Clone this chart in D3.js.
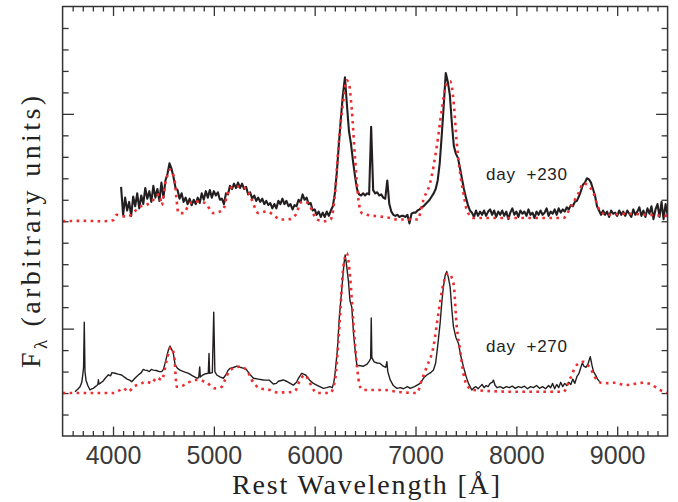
<!DOCTYPE html>
<html>
<head>
<meta charset="utf-8">
<script src="https://cdn.jsdelivr.net/npm/d3@7/dist/d3.min.js"></script>
<style>
  body { margin: 0; background: #fff; }
  text { font-family: 'Liberation Sans', Arial, sans-serif; }
  .title { font-family: 'Liberation Serif', 'DejaVu Serif', serif; }
</style>
</head>
<body>
<svg id="chart" width="678" height="502"></svg>
<script>
// wavelength ticks (Angstrom)
let xMajor = [4000, 5000, 6000, 7000, 8000, 9000];
// flux axis is in arbitrary units, ticks every 1, long ticks at 0 and 10
let yMajor = [0, 10];

// day +230 observed spectrum, sampled every 20 A from 4080 A
let upperStart = 4080;
let upperStep = 20;
let upperObs = [
  1.6, 0.3, 1.1, 0.5, 0.9, 0.25, 1.15, 0.7, 1.3, 0.6,
  1.2, 0.8, 1.55, 1.05, 1.4, 0.9, 1.65, 1.1, 1.5, 0.95,
  1.8, 1.1, 1.9, 2.2, 2.7, 2.45, 2.05, 1.55, 1.45, 1.05,
  1.3, 0.9, 1.1, 0.8, 1.05, 0.75, 1.0, 0.8, 1.1, 0.85,
  1.3, 1.0, 1.4, 1.1, 1.45, 1.1, 1.4, 1.2, 1.35, 1.0,
  1.05, 0.8, 1.3, 1.25, 1.65, 1.5, 1.75, 1.55, 1.8, 1.55,
  1.75, 1.5, 1.6, 1.25, 1.35, 1.05, 1.2, 0.95, 1.1, 0.9,
  1.05, 0.8, 0.95, 0.75, 0.85, 0.6, 0.8, 0.6, 0.95, 0.8,
  1.05, 0.8, 0.95, 0.7, 0.8, 0.55, 0.75, 0.7, 1.0, 0.9,
  1.25, 1.0, 1.1, 0.8, 0.85, 0.5, 0.55, 0.3, 0.45, 0.2,
  0.4, 0.2, 0.45, 0.25, 0.5, 0.7, 1.3, 2.3, 3.6, 4.8,
  5.9, 6.7, 5.4, 4.2, 3.6, 2.8, 2.1, 1.5, 1.25, 1.2,
  1.3, 1.2, 1.3, 1.25, 4.4, 1.45, 1.3, 1.35, 1.2, 1.25,
  1.1, 1.05, 1.9, 0.8, 0.45, 0.3, 0.25, 0.3, 0.2, 0.25,
  0.25, 0.2, 0.3, -0.1, 0.35, 0.4, 0.4, 0.5, 0.55, 0.65,
  0.7, 0.8, 0.9, 1.0, 1.15, 1.3, 1.5, 1.9, 2.7, 4.0,
  5.4, 6.9, 6.5, 5.9, 4.6, 3.5, 3.15, 2.95, 2.5, 2.0,
  1.5, 1.1, 0.75, 0.5, 0.4, 0.2, 0.5, 0.25, 0.45, 0.3,
  0.5, 0.25, 0.45, 0.55, 0.3, 0.5, 0.2, 0.45, 0.3, 0.5,
  0.25, 0.45, 0.1, 0.4, 0.6, 0.3, 0.45, 0.2, 0.5, 0.35,
  0.45, 0.25, 0.55, 0.3, 0.4, 0.15, 0.45, 0.3, 0.5, 0.3,
  0.4, 0.6, 0.25, 0.45, 0.35, 0.55, 0.3, 0.6, 0.4, 0.55,
  0.45, 0.65, 0.55, 0.75, 0.7, 0.9, 0.95, 1.15, 1.4, 1.7,
  1.8, 2.0, 1.95, 1.8, 1.5, 1.2, 0.7, 0.5, 0.3, 0.5,
  0.3, 0.45, 0.2, 0.5, 0.35, 0.4, 0.25, 0.5, 0.3, 0.45,
  0.25, 0.5, 0.35, 0.2, 0.55, 0.3, 0.45, 0.65, 0.25, 0.5,
  0.2, 0.6, 0.35, 0.7, 0.1, 0.55, 0.8, 0.2, 0.9, 0.1,
  0.8, 0.3
];

// day +270 observed spectrum [wavelength, flux]
let lowerObs = [
  [3623, 0.06], [3650, 0.18], [3673, 0.29], [3690, 0.5], [3700, 0.85], [3708, 1.2],
  [3715, 3.3], [3722, 1.0], [3732, 0.6], [3750, 0.35], [3772, 0.14], [3790, 0.2],
  [3805, 0.22], [3825, 0.3], [3840, 0.35], [3850, 0.4], [3855, 0.62], [3860, 0.42],
  [3871, 0.45], [3900, 0.55], [3925, 0.7], [3954, 0.85], [3975, 0.8], [3990, 0.95],
  [4020, 0.92], [4050, 0.88], [4086, 0.84], [4110, 0.75], [4140, 0.65], [4165, 0.6],
  [4186, 0.53], [4210, 0.65], [4230, 0.75], [4251, 0.84], [4280, 0.95], [4300, 1.1],
  [4317, 1.07], [4340, 1.05], [4360, 1.0], [4380, 1.1], [4400, 1.07], [4430, 1.05],
  [4460, 1.0], [4483, 1.0], [4500, 1.1], [4516, 1.38], [4535, 1.75], [4549, 2.0],
  [4565, 2.19], [4580, 2.05], [4598, 1.85], [4616, 1.31], [4640, 1.15], [4665, 1.07],
  [4700, 1.0], [4749, 0.92], [4790, 0.8], [4831, 0.69], [4850, 0.72], [4860, 1.22],
  [4866, 0.75], [4890, 0.84], [4920, 0.9], [4945, 0.92], [4952, 1.84], [4958, 0.92],
  [4985, 0.95], [4999, 3.76], [5010, 1.0], [5029, 0.84], [5060, 0.75], [5094, 0.69],
  [5120, 0.85], [5140, 1.05], [5161, 1.15], [5200, 1.2], [5230, 1.25], [5260, 1.2],
  [5300, 1.15], [5327, 1.07], [5360, 0.85], [5393, 0.69], [5440, 0.65], [5492, 0.61],
  [5550, 0.6], [5590, 0.42], [5620, 0.45], [5640, 0.55], [5689, 0.61], [5720, 0.55],
  [5740, 0.5], [5788, 0.37], [5820, 0.5], [5840, 0.7], [5871, 0.92], [5890, 0.88],
  [5910, 0.84], [5950, 0.6], [5987, 0.45], [6030, 0.35], [6087, 0.22], [6120, 0.25],
  [6150, 0.3], [6175, 0.25], [6190, 0.5], [6202, 0.92], [6225, 2.0], [6245, 3.56],
  [6270, 4.9], [6290, 6.0], [6302, 6.43], [6315, 6.0], [6335, 5.2], [6350, 4.3],
  [6368, 4.0], [6385, 2.8], [6401, 2.0], [6418, 1.31], [6434, 1.28], [6484, 1.25],
  [6520, 1.35], [6543, 1.5], [6555, 1.6], [6561, 3.5], [6567, 1.65], [6590, 1.45],
  [6620, 1.4], [6649, 1.38], [6680, 1.25], [6705, 1.2], [6716, 1.46], [6725, 1.0],
  [6749, 0.61], [6780, 0.35], [6815, 0.22], [6850, 0.25], [6880, 0.2], [6920, 0.3],
  [6947, 0.22], [6990, 0.3], [7046, 0.45], [7080, 0.7], [7112, 0.84], [7150, 0.95],
  [7178, 1.07], [7200, 1.4], [7220, 2.2], [7244, 3.25], [7262, 4.3], [7277, 4.96],
  [7295, 5.5], [7310, 5.66], [7325, 5.4], [7343, 4.96], [7360, 3.9], [7376, 3.09],
  [7400, 2.6], [7426, 2.31], [7450, 1.7], [7475, 1.23], [7500, 0.8], [7525, 0.45],
  [7558, 0.14], [7580, 0.25], [7600, 0.3], [7620, 0.2], [7640, 0.3], [7660, 0.4],
  [7680, 0.25], [7700, 0.35], [7720, 0.3], [7740, 0.45], [7760, 0.5], [7773, 0.6],
  [7790, 0.35], [7810, 0.25], [7840, 0.3], [7870, 0.22], [7900, 0.3], [7930, 0.25],
  [7960, 0.32], [7990, 0.22], [8020, 0.3], [8050, 0.25], [8080, 0.32], [8110, 0.2],
  [8140, 0.3], [8170, 0.25], [8200, 0.35], [8230, 0.22], [8260, 0.3], [8290, 0.2],
  [8320, 0.35], [8340, 0.25], [8360, 0.45], [8380, 0.2], [8400, 0.4], [8420, 0.25],
  [8440, 0.5], [8460, 0.3], [8480, 0.45], [8500, 0.35], [8520, 0.5], [8540, 0.4],
  [8560, 0.65], [8580, 0.45], [8600, 0.76], [8620, 0.9], [8640, 1.2], [8655, 1.4],
  [8670, 1.25], [8690, 1.2], [8710, 1.35], [8733, 1.69], [8750, 1.3], [8765, 1.0],
  [8790, 0.8], [8805, 0.65], [8826, 0.53]
];

// model spectra [wavelength, flux]
let upperModel = [
  [3500, 0], [3700, 0.02], [3900, 0], [4000, 0.05], [4036, 0.3], [4080, 0.25],
  [4152, 0.22], [4200, 0.4], [4235, 0.54], [4280, 0.7], [4334, 0.77], [4400, 1.0],
  [4434, 1.2], [4460, 1.25], [4483, 0.75], [4515, 1.7], [4545, 2.2], [4565, 2.4],
  [4598, 2.17], [4615, 1.78], [4632, 0.92], [4648, 0.38], [4700, 0.38], [4764, 0.85],
  [4846, 0.92], [4913, 0.85], [4995, 0.38], [5094, 0.54], [5128, 1.16], [5161, 1.55],
  [5260, 1.62], [5327, 1.47], [5376, 1.0], [5441, 0.38], [5524, 0.46], [5590, 0.3],
  [5657, 0.08], [5755, 0.1], [5822, 0.38], [5855, 0.85], [5905, 0.92], [5954, 0.69],
  [6021, 0.08], [6100, 0], [6160, 0.1], [6202, 1.31], [6236, 3.49], [6285, 5.66],
  [6318, 6.56], [6340, 6.4], [6368, 5.2], [6401, 2.87], [6434, 1.0], [6467, 0.38],
  [6517, 0.3], [6649, 0.22], [6750, 0.15], [6815, 0.08], [6950, 0.08], [7029, 0.08],
  [7046, 0.38], [7079, 1.0], [7145, 1.78], [7211, 3.49], [7261, 5.2], [7310, 6.44],
  [7343, 6.52], [7376, 5.66], [7409, 3.65], [7442, 2.25], [7475, 1.31], [7508, 0.54],
  [7574, 0.15], [8000, 0.15], [8467, 0.15], [8534, 0.62], [8616, 1.31], [8666, 1.78],
  [8700, 1.7], [8765, 1.31], [8814, 0.62], [8897, 0.3], [9100, 0.35], [9300, 0.3],
  [9500, 0.25]
];
let lowerModel = [
  [3500, 0], [4000, 0], [4069, 0.14], [4102, 0.23], [4152, 0.06], [4202, 0.29],
  [4268, 0.42], [4334, 0.53], [4384, 0.45], [4434, 0.73], [4483, 0.61], [4533, 1.54],
  [4573, 2.13], [4606, 1.77], [4632, 0.29], [4670, 0.3], [4731, 0.45], [4814, 0.61],
  [4913, 0.53], [5012, 0.22], [5078, 0.29], [5111, 0.61], [5161, 1.07], [5260, 1.23],
  [5327, 1.07], [5376, 0.61], [5458, 0.22], [5557, 0.14], [5623, 0.03], [5722, 0.03],
  [5805, 0.1], [5855, 0.61], [5905, 0.84], [5954, 0.45], [6021, 0], [6153, 0],
  [6202, 0.61], [6236, 2.47], [6285, 5.89], [6318, 6.51], [6351, 5.42], [6384, 3.25],
  [6418, 1.3], [6451, 0.29], [6484, 0.14], [6700, 0.14], [6815, 0.06], [7013, 0],
  [7062, 0.61], [7112, 1.23], [7178, 2.16], [7227, 3.72], [7277, 5.11], [7327, 5.58],
  [7376, 5.11], [7409, 3.09], [7442, 2.0], [7475, 0.92], [7508, 0.37], [7574, 0.14],
  [8000, 0.06], [8467, 0.06], [8534, 0.68], [8600, 1.31], [8666, 1.46], [8733, 1.15],
  [8798, 0.61], [8864, 0.45], [8979, 0.48], [9080, 0.37], [9260, 0.48], [9326, 0.42],
  [9426, 0.14], [9492, 0]
];

// vertical offsets of the two epochs
let upperOffset = 5;
let lowerOffset = -3;
let epochLabels = ['day  +230', 'day  +270'];

let frameLeft = 62.6;
let frameRight = 667.6;
let frameTop = 6.5;
let frameBottom = 436;
let ink = '#231f20';
let red = '#ee2b2e';

const svg = d3.select('#chart');

let x = d3.scaleLinear().domain([3500, 9500]).range([frameLeft, frameRight]);
let y = d3.scaleLinear().domain([-5, 15]).range([frameBottom, frameTop]);

svg.append('defs').append('clipPath')
  .attr('id', 'frame')
  .append('rect')
  .attr('x', frameLeft)
  .attr('y', frameTop)
  .attr('width', frameRight - frameLeft)
  .attr('height', frameBottom - frameTop);

let xMinor = d3.range(3600, 9500, 100).filter(d => xMajor.indexOf(d) < 0);
let yMinor = d3.range(-4, 15, 1).filter(d => yMajor.indexOf(d) < 0);

const drawAxis = (axis, transform, labels) => {
  let g = svg.append('g')
    .attr('transform', transform)
    .call(axis);
  g.select('.domain').remove();
  g.selectAll('line').attr('stroke', '#333').attr('stroke-width', 1.3);
  if (!labels) {
    g.selectAll('text').remove();
  }
  return g;
};

// bottom
drawAxis(d3.axisBottom(x).tickValues(xMinor).tickSize(-5), 'translate(0,' + frameBottom + ')', false);
let xLab = drawAxis(d3.axisBottom(x).tickValues(xMajor).tickSize(-9.5).tickPadding(10).tickFormat(d3.format('d')),
  'translate(0,' + frameBottom + ')', true);
xLab.selectAll('text')
  .attr('font-size', 25)
  .attr('fill', '#3a3a3a')
  .attr('font-family', "'Liberation Sans', Arial, sans-serif");
// top
drawAxis(d3.axisTop(x).tickValues(xMinor).tickSize(-5), 'translate(0,' + frameTop + ')', false);
drawAxis(d3.axisTop(x).tickValues(xMajor).tickSize(-9.5), 'translate(0,' + frameTop + ')', false);
// left and right
drawAxis(d3.axisLeft(y).tickValues(yMinor).tickSize(-6), 'translate(' + frameLeft + ',0)', false);
drawAxis(d3.axisLeft(y).tickValues(yMajor).tickSize(-11.5), 'translate(' + frameLeft + ',0)', false);
drawAxis(d3.axisRight(y).tickValues(yMinor).tickSize(-6), 'translate(' + frameRight + ',0)', false);
drawAxis(d3.axisRight(y).tickValues(yMajor).tickSize(-11.5), 'translate(' + frameRight + ',0)', false);

let plot = svg.append('g').attr('clip-path', 'url(#frame)');

const lineAt = (offset) => d3.line()
  .x(d => x(d[0]))
  .y(d => y(d[1] + offset));

let upperPts = upperObs.map((v, i) => [upperStart + i * upperStep, v]);

plot.append('path')
  .attr('d', lineAt(upperOffset)(upperPts))
  .attr('fill', 'none')
  .attr('stroke', ink)
  .attr('stroke-width', 2.1)
  .attr('stroke-linejoin', 'round');

plot.append('path')
  .attr('d', lineAt(lowerOffset)(lowerObs))
  .attr('fill', 'none')
  .attr('stroke', ink)
  .attr('stroke-width', 1.4)
  .attr('stroke-linejoin', 'round');

[[upperModel, upperOffset], [lowerModel, lowerOffset]].forEach(function (m) {
  plot.append('path')
    .attr('d', lineAt(m[1]).curve(d3.curveMonotoneX)(m[0]))
    .attr('fill', 'none')
    .attr('stroke', red)
    .attr('stroke-width', 2.6)
    .attr('stroke-dasharray', '2.6 4.4');
});

// frame
svg.append('rect')
  .attr('x', frameLeft)
  .attr('y', frameTop)
  .attr('width', frameRight - frameLeft)
  .attr('height', frameBottom - frameTop)
  .attr('fill', 'none')
  .attr('stroke', '#333')
  .attr('stroke-width', 1.5);

// epoch labels
svg.selectAll('.epoch')
  .data(epochLabels)
  .enter()
  .append('text')
  .attr('class', 'epoch')
  .attr('x', 486)
  .attr('y', (d, i) => i === 0 ? 180 : 352)
  .attr('font-size', 17)
  .attr('fill', '#222')
  .attr('textLength', 81)
  .attr('lengthAdjust', 'spacing')
  .style('white-space', 'pre')
  .text(d => d);

// axis titles
svg.append('text')
  .attr('class', 'title')
  .attr('x', 366)
  .attr('y', 494)
  .attr('text-anchor', 'middle')
  .attr('font-size', 28)
  .attr('fill', '#222')
  .attr('textLength', 268)
  .attr('lengthAdjust', 'spacing')
  .text('Rest Wavelength [\u00c5]');

let yTitle = svg.append('text')
  .attr('class', 'title')
  .attr('transform', 'translate(40,232) rotate(-90)')
  .attr('text-anchor', 'middle')
  .attr('font-size', 28)
  .attr('fill', '#222')
  .attr('textLength', 272)
  .attr('lengthAdjust', 'spacing');
yTitle.append('tspan').text('F');
yTitle.append('tspan').attr('dy', 7).attr('font-size', 19).text('\u03bb');
yTitle.append('tspan').attr('dy', -7).attr('dx', 10).text('(arbitrary units)');
</script>
</body>
</html>
